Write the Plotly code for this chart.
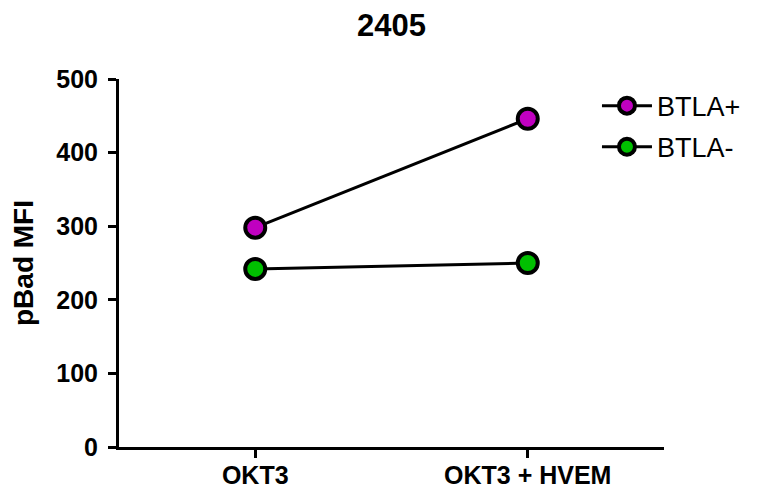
import plotly.graph_objects as go

categories = ["OKT3", "OKT3 + HVEM"]
btla_pos = [298, 446]
btla_neg = [242, 250]
series_names = ["BTLA+", "BTLA-"]
series_colors = ["#C000C0", "#00C000"]
y_ticks = [0, 100, 200, 300, 400, 500]

FONT = "Liberation Sans, Arial, sans-serif"

fig = go.Figure()
for i, (name, vals, col) in enumerate(zip(series_names, [btla_pos, btla_neg], series_colors)):
    fig.add_trace(go.Scatter(
        x=[0, 1], y=vals, name=name, mode="lines+markers", legendgroup=f"g{i}",
        line=dict(color="black", width=3),
        marker=dict(size=20, color=col, line=dict(color="black", width=4)),
    ))

fig.update_layout(
    width=767, height=483,
    margin=dict(l=111, r=111, t=71, b=44, autoexpand=False),
    plot_bgcolor="white", paper_bgcolor="white",
    title=dict(text="<b>2405</b>", x=0.5, xanchor="center", xref="paper",
               y=0.965, yanchor="middle",
               font=dict(family=FONT, size=31, color="black")),
    font=dict(family=FONT, color="black"),
    xaxis=dict(
        range=[-0.5, 1.5], tickvals=[0, 1], ticktext=[f"<b>{c}</b>" for c in categories],
        showline=True, linecolor="black", linewidth=3, ticks="outside",
        ticklen=8, tickwidth=3, tickcolor="black", showgrid=False, zeroline=False,
        tickfont=dict(size=25, family=FONT), ticklabelstandoff=-4, automargin=False,
    ),
    yaxis=dict(
        range=[0, 500], tickvals=y_ticks, ticktext=[f"<b>{t}</b>" for t in y_ticks],
        showline=True, linecolor="black", linewidth=3, ticks="outside",
        ticklen=8, tickwidth=3, tickcolor="black", showgrid=False, zeroline=False,
        tickfont=dict(size=25, family=FONT), ticklabelstandoff=5, automargin=False,
        title=dict(text="<b>pBad MFI</b>", font=dict(size=28, family=FONT), standoff=16),
    ),
    legend=dict(x=0.877, y=0.993, xanchor="left", yanchor="top", font=dict(size=27, family=FONT),
                bgcolor="rgba(0,0,0,0)", tracegroupgap=3, itemwidth=50),
    showlegend=True,
)
fig.write_html("out.html")
